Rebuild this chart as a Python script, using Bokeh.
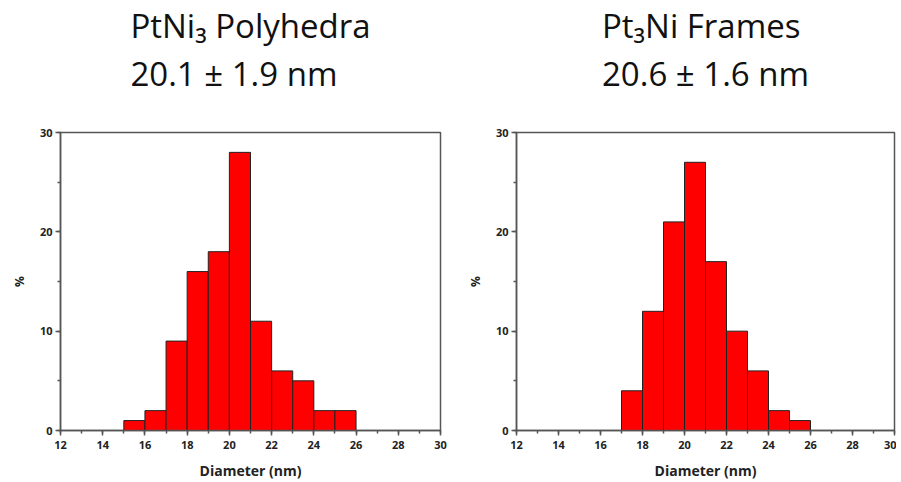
from bokeh.plotting import figure
from bokeh.layouts import row
from bokeh.models import Title, SingleIntervalTicker, Range1d
from bokeh.embed import file_html
from bokeh.resources import INLINE

# ---- data ----
bins_left_a = [15, 16, 17, 18, 19, 20, 21, 22, 23, 24, 25]
pct_a = [1, 2, 9, 16, 18, 28, 11, 6, 5, 2, 2]

bins_left_b = [17, 18, 19, 20, 21, 22, 23, 24, 25]
pct_b = [4, 12, 21, 27, 17, 10, 6, 2, 1]

bin_width = 1
titles_a = "PtNi\u2083 Polyhedra\n20.1 \u00b1 1.9 nm"
titles_b = "Pt\u2083Ni Frames\n20.6 \u00b1 1.6 nm"
x_label = "Diameter (nm)"
y_label = "%"

FONT = "Open Sans"
AXIS_COLOR = "#555555"


def make_panel(lefts, vals, title, width, border_left, border_right):
    p = figure(width=width, height=482, output_backend="svg", toolbar_location=None,
               x_range=Range1d(12, 30), y_range=Range1d(0, 30),
               min_border_left=border_left, min_border_right=border_right,
               min_border_top=132, min_border_bottom=51)
    p.quad(left=lefts, right=[l + bin_width for l in lefts], top=vals, bottom=0,
           fill_color="#ff0000", line_color="#222222", line_width=1)
    p.grid.visible = False
    p.outline_line_color = AXIS_COLOR
    p.outline_line_width = 1.5
    p.background_fill_color = "white"
    p.border_fill_color = "white"

    p.xaxis.ticker = SingleIntervalTicker(interval=2, num_minor_ticks=2)
    p.yaxis.ticker = SingleIntervalTicker(interval=10, num_minor_ticks=2)
    for ax in (p.xaxis, p.yaxis):
        ax.axis_line_color = AXIS_COLOR
        ax.axis_line_width = 1.5
        ax.major_tick_line_color = AXIS_COLOR
        ax.minor_tick_line_color = AXIS_COLOR
        ax.major_tick_line_width = 1.5
        ax.minor_tick_line_width = 1.5
        ax.major_tick_out = 5
        ax.major_tick_in = 0
        ax.minor_tick_out = 3
        ax.minor_tick_in = 0
        ax.major_label_text_font = FONT
        ax.major_label_text_font_style = "bold"
        ax.major_label_text_font_size = "11px"
        ax.major_label_text_color = "#222222"
        ax.axis_label_text_font = FONT
        ax.axis_label_text_font_style = "bold"
        ax.axis_label_text_color = "#222222"
    p.xaxis.axis_label = x_label
    p.xaxis.axis_label_text_font_size = "14px"
    p.xaxis.axis_label_standoff = 9
    p.xaxis.major_label_standoff = 5
    p.yaxis.axis_label = y_label
    p.yaxis.axis_label_text_font_size = "12px"
    p.yaxis.axis_label_standoff = 9
    p.yaxis.major_label_standoff = 3

    # invisible spacer between the title block and the frame
    p.add_layout(Title(text=" ", text_font_size="10px", standoff=24), "above")
    p.add_layout(Title(text=title, align="center", text_font=FONT,
                       text_font_size="33px", text_font_style="normal",
                       text_line_height=1.05,
                       text_color="#111111", standoff=0), "above")
    return p


p1 = make_panel(bins_left_a, pct_a, titles_a, 453, 60, 13)
p2 = make_panel(bins_left_b, pct_b, titles_b, 443, 63, 2)

layout = row(p1, p2)
open("out.html", "w").write(file_html(layout, INLINE))
